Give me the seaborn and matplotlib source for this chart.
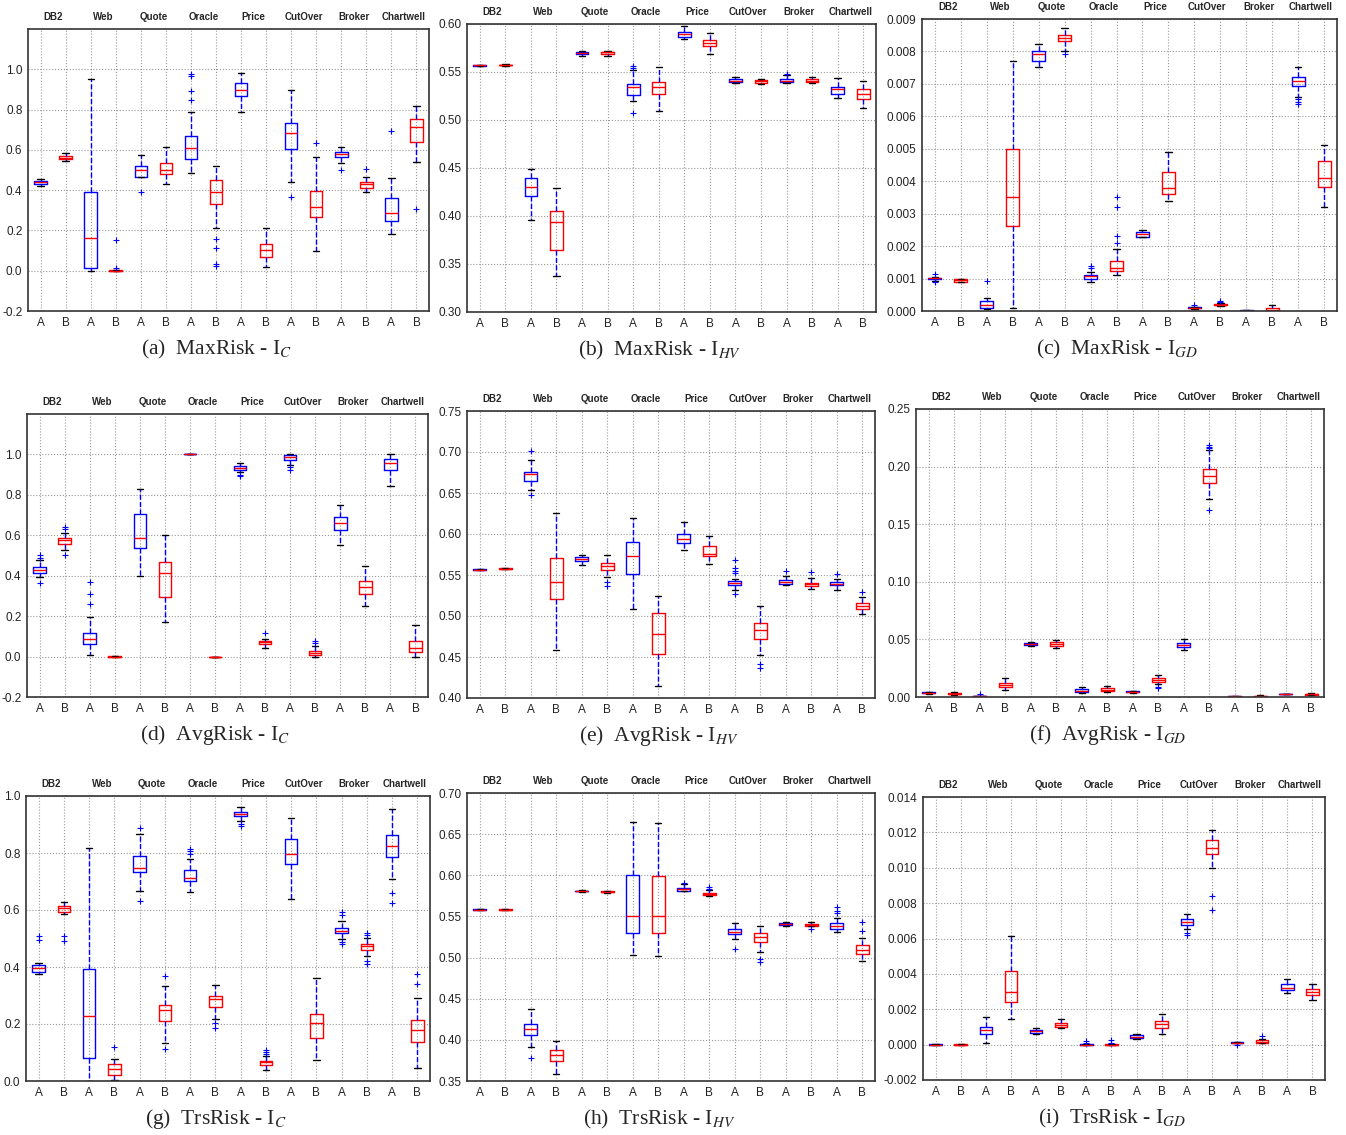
import numpy as np
import pandas as pd
import matplotlib
matplotlib.use('Agg')
import matplotlib.pyplot as plt
import seaborn as sns

# Sistemas e variantes (ordem das caixas no eixo x)
systems = ['DB2', 'Web', 'Quote', 'Oracle', 'Price', 'CutOver', 'Broker', 'Chartwell']
variants = ['A', 'B']

# (a) MaxRisk - I_C
a_low = [0.42, 0.545, 0.0, 0.0, 0.389, 0.429, 0.483, 0.211, 0.790, 0.018, 0.44, 0.10, 0.535, 0.389, 0.183, 0.538]
a_q1 = [0.432, 0.555, 0.013, 0.0, 0.467, 0.482, 0.553, 0.333, 0.868, 0.068, 0.606, 0.266, 0.563, 0.409, 0.249, 0.637]
a_med = [0.438, 0.562, 0.162, 0.001, 0.498, 0.502, 0.611, 0.393, 0.899, 0.104, 0.686, 0.315, 0.578, 0.429, 0.285, 0.715]
a_q3 = [0.445, 0.570, 0.391, 0.002, 0.518, 0.536, 0.668, 0.449, 0.934, 0.135, 0.734, 0.394, 0.587, 0.439, 0.363, 0.752]
a_high = [0.455, 0.585, 0.95, 0.003, 0.573, 0.614, 0.787, 0.521, 0.983, 0.21, 0.899, 0.563, 0.614, 0.467, 0.46, 0.817]
a_fliers = [[], [], [], [0.012, 0.15], [], [], [0.848, 0.891, 0.967, 0.979], [0.155, 0.114, 0.033, 0.023],
            [], [], [0.368], [0.635], [0.5], [0.503], [0.695], [0.305]]

# (b) MaxRisk - I_HV
b_low = [0.556, 0.5565, 0.3957, 0.337, 0.5665, 0.5667, 0.5196, 0.509, 0.584, 0.5692, 0.5386, 0.5376, 0.5388, 0.5385, 0.5227, 0.5123]
b_q1 = [0.5566, 0.5571, 0.4207, 0.3649, 0.5685, 0.5690, 0.5265, 0.5268, 0.5865, 0.577, 0.5392, 0.5390, 0.5395, 0.5393, 0.5268, 0.5223]
b_med = [0.5570, 0.5575, 0.430, 0.394, 0.570, 0.5705, 0.534, 0.534, 0.590, 0.5799, 0.541, 0.5404, 0.541, 0.5410, 0.532, 0.527]
b_q3 = [0.5573, 0.5578, 0.440, 0.4054, 0.5712, 0.5712, 0.537, 0.5393, 0.5915, 0.583, 0.5424, 0.5418, 0.5424, 0.5422, 0.5345, 0.532]
b_high = [0.5578, 0.558, 0.4488, 0.4287, 0.572, 0.572, 0.5525, 0.555, 0.598, 0.591, 0.5445, 0.543, 0.5465, 0.5452, 0.5438, 0.5407]
b_fliers = [[], [], [], [], [], [], [0.5563, 0.5546, 0.5071], [], [], [], [], [], [0.5475], [], [], []]

# (c) MaxRisk - I_GD
c_low = [0.00093, 0.0009, 0.00007, 0.0001, 0.00751, 0.0080, 0.0009, 0.0011, 0.00228, 0.0034, 0.00007, 0.00015, 0.0, 0.0, 0.0066, 0.00321]
c_q1 = [0.00098, 0.0009, 0.0001, 0.00262, 0.0077, 0.00831, 0.00099, 0.00122, 0.00229, 0.0036, 0.00008, 0.00018, 0.0, 0.0, 0.00695, 0.00383]
c_med = [0.00101, 0.00096, 0.0002, 0.0035, 0.00792, 0.00842, 0.00109, 0.00131, 0.00237, 0.0038, 0.0001, 0.0002, 0.00001, 0.00002, 0.0071, 0.00411]
c_q3 = [0.00102, 0.0010, 0.0003, 0.0050, 0.0080, 0.00852, 0.00112, 0.00155, 0.00242, 0.00429, 0.00012, 0.00022, 0.00002, 0.0001, 0.0072, 0.00461]
c_high = [0.00106, 0.0010, 0.00041, 0.0077, 0.00822, 0.00871, 0.0012, 0.0019, 0.00251, 0.0049, 0.00013, 0.00025, 0.00002, 0.0002, 0.00751, 0.00511]
c_fliers = [[0.00113, 0.00088], [], [0.00092], [], [], [0.00792], [0.00133, 0.0014], [0.0021, 0.0023, 0.0032, 0.0035],
            [], [], [0.0002], [0.00032, 0.00029], [], [], [0.00653, 0.00645, 0.00638], []]

# (d) AvgRisk - I_C
d_low = [0.393, 0.526, 0.007, 0.0, 0.398, 0.172, 1.0, 0.0, 0.914, 0.043, 0.95, 0.0, 0.553, 0.251, 0.845, 0.0]
d_q1 = [0.414, 0.559, 0.063, 0.0, 0.535, 0.295, 1.0, 0.0, 0.924, 0.061, 0.974, 0.007, 0.625, 0.31, 0.924, 0.023]
d_med = [0.429, 0.578, 0.089, 0.0, 0.587, 0.414, 1.0, 0.0, 0.932, 0.071, 0.985, 0.017, 0.663, 0.342, 0.959, 0.043]
d_q3 = [0.442, 0.586, 0.117, 0.001, 0.706, 0.467, 1.0, 0.0, 0.941, 0.078, 0.995, 0.028, 0.691, 0.376, 0.979, 0.078]
d_high = [0.477, 0.611, 0.196, 0.002, 0.83, 0.602, 1.0, 0.0, 0.957, 0.089, 1.0, 0.054, 0.752, 0.447, 1.0, 0.157]
d_fliers = [[0.502, 0.488, 0.365], [0.640, 0.630, 0.50], [0.261, 0.31, 0.368], [], [], [], [], [],
            [0.893, 0.896], [0.116], [0.937, 0.925], [0.066, 0.078], [], [], [], []]

# (e) AvgRisk - I_HV
e_low = [0.5555, 0.5575, 0.654, 0.458, 0.5624, 0.5477, 0.5087, 0.415, 0.580, 0.5632, 0.5319, 0.4525, 0.5384, 0.5331, 0.5323, 0.503]
e_q1 = [0.5562, 0.5577, 0.665, 0.5209, 0.5669, 0.5563, 0.5514, 0.4533, 0.589, 0.5726, 0.538, 0.4725, 0.5396, 0.5368, 0.5372, 0.5087]
e_med = [0.5566, 0.5579, 0.673, 0.542, 0.5697, 0.5604, 0.5734, 0.478, 0.5937, 0.5754, 0.5408, 0.4834, 0.5416, 0.5388, 0.5392, 0.5127]
e_q3 = [0.5570, 0.5581, 0.676, 0.5705, 0.5718, 0.5652, 0.5905, 0.5034, 0.600, 0.5852, 0.5429, 0.492, 0.5441, 0.5408, 0.5416, 0.5164]
e_high = [0.5578, 0.5583, 0.690, 0.626, 0.5742, 0.5738, 0.619, 0.524, 0.615, 0.5974, 0.545, 0.5123, 0.5486, 0.5465, 0.5453, 0.5233]
e_fliers = [[], [], [0.7016, 0.647], [], [], [0.542, 0.536], [], [], [], [],
            [0.568, 0.559, 0.555, 0.553, 0.527], [0.4415, 0.436], [0.5543], [0.5539], [0.5518], [0.529]]

# (f) AvgRisk - I_GD
f_low = [0.003, 0.002, 0.0, 0.0064, 0.0441, 0.0429, 0.0038, 0.0043, 0.0038, 0.0115, 0.0411, 0.1721, 0.0, 0.0, 0.0022, 0.0015]
f_q1 = [0.0033, 0.0024, 0.0005, 0.0087, 0.0455, 0.0443, 0.0043, 0.0052, 0.0043, 0.0133, 0.0435, 0.1854, 0.0003, 0.0003, 0.0024, 0.0018]
f_med = [0.0038, 0.0029, 0.0009, 0.0107, 0.046, 0.0463, 0.0055, 0.0064, 0.0046, 0.0151, 0.0455, 0.192, 0.0006, 0.0006, 0.0026, 0.0023]
f_q3 = [0.0042, 0.0035, 0.0013, 0.0122, 0.0465, 0.0475, 0.0067, 0.0075, 0.005, 0.0162, 0.0472, 0.1976, 0.0009, 0.0011, 0.0028, 0.0029]
f_high = [0.0045, 0.0045, 0.0025, 0.0165, 0.0479, 0.0492, 0.0087, 0.0096, 0.0055, 0.0188, 0.0507, 0.2141, 0.0012, 0.0015, 0.003, 0.0033]
f_fliers = [[], [], [], [], [], [], [], [], [], [0.0088, 0.0082], [], [0.2187, 0.2173, 0.2163, 0.1622], [], [], [], []]

# (g) TrsRisk - I_C
g_low = [0.3747, 0.5855, 0.001, 0.005, 0.666, 0.1323, 0.6616, 0.219, 0.911, 0.0398, 0.638, 0.075, 0.4965, 0.4403, 0.7084, 0.0468]
g_q1 = [0.384, 0.5913, 0.082, 0.0222, 0.733, 0.2108, 0.7026, 0.2611, 0.9286, 0.0574, 0.7623, 0.151, 0.52, 0.461, 0.7845, 0.137]
g_med = [0.398, 0.6066, 0.2295, 0.041, 0.747, 0.2506, 0.714, 0.2869, 0.938, 0.0656, 0.795, 0.2049, 0.528, 0.472, 0.823, 0.178]
g_q3 = [0.4087, 0.6148, 0.3934, 0.0597, 0.788, 0.267, 0.739, 0.2974, 0.9426, 0.0714, 0.849, 0.2365, 0.5375, 0.480, 0.8618, 0.2154]
g_high = [0.4157, 0.6265, 0.8185, 0.0773, 0.8665, 0.3326, 0.7775, 0.3384, 0.960, 0.089, 0.9227, 0.363, 0.5597, 0.5023, 0.953, 0.2904]
g_fliers = [[0.509, 0.494], [0.508, 0.4906], [], [0.1206], [0.886, 0.631], [0.369, 0.1136], [0.8126, 0.8056, 0.798], [0.203, 0.187],
            [0.9016, 0.8946], [0.1077, 0.1007, 0.0937], [], [], [0.5925, 0.583, 0.488, 0.48], [0.521, 0.5129, 0.4215, 0.412],
            [0.66, 0.624], [0.3407, 0.3747]]

# (h) TrsRisk - I_HV
h_low = [0.558, 0.558, 0.3914, 0.3581, 0.580, 0.5785, 0.503, 0.5022, 0.5806, 0.5749, 0.5225, 0.5063, 0.5388, 0.5351, 0.5311, 0.4962]
h_q1 = [0.5581, 0.5581, 0.406, 0.3748, 0.5805, 0.5793, 0.5303, 0.5295, 0.5815, 0.5765, 0.5286, 0.5185, 0.5396, 0.5388, 0.5351, 0.5047]
h_med = [0.5583, 0.5583, 0.4137, 0.3821, 0.581, 0.5798, 0.551, 0.5502, 0.5835, 0.5778, 0.5311, 0.5254, 0.5408, 0.5396, 0.538, 0.5096]
h_q3 = [0.5585, 0.5585, 0.4198, 0.3882, 0.5815, 0.5803, 0.6009, 0.5989, 0.5847, 0.5786, 0.5343, 0.5295, 0.542, 0.5408, 0.5416, 0.5152]
h_high = [0.5586, 0.5586, 0.4369, 0.3987, 0.582, 0.581, 0.6643, 0.6634, 0.5893, 0.5816, 0.5416, 0.5384, 0.5437, 0.5428, 0.5485, 0.5242]
h_fliers = [[], [], [0.3784], [], [], [], [], [], [0.5912], [0.5855, 0.5838], [0.51], [0.4978, 0.4941], [], [],
            [0.5611, 0.557, 0.5538], [0.5433, 0.532]]

# (i) TrsRisk - I_GD
i_low = [0.0, 0.0, 0.00011, 0.00143, 0.0006, 0.00092, 0.0, 0.0, 0.00034, 0.0006, 0.00651, 0.0100, 0.00008, 0.00008, 0.00292, 0.00251]
i_q1 = [0.0, 0.0, 0.0006, 0.0024, 0.00068, 0.001, 0.0, 0.0, 0.00038, 0.00092, 0.00679, 0.01077, 0.0001, 0.00011, 0.00308, 0.00279]
i_med = [0.0, 0.0, 0.00085, 0.0030, 0.00075, 0.00111, 0.0, 0.0, 0.00043, 0.00115, 0.00692, 0.01109, 0.00011, 0.00017, 0.00321, 0.00298]
i_q3 = [0.00001, 0.00001, 0.00102, 0.00419, 0.00083, 0.00121, 0.00002, 0.00002, 0.00053, 0.00132, 0.00711, 0.01158, 0.00013, 0.00025, 0.00342, 0.00313]
i_high = [0.00001, 0.00001, 0.00158, 0.00613, 0.00092, 0.00143, 0.00005, 0.00005, 0.0006, 0.00172, 0.0074, 0.01213, 0.00015, 0.00034, 0.0037, 0.00342]
i_fliers = [[], [], [], [], [], [], [0.0001, 0.0002], [0.0001, 0.00025], [], [], [0.0063, 0.00622], [0.0084, 0.0076],
            [0.0], [0.0005], [], []]


# Monta amostras cujos quartis, mediana e extremos batem com os valores lidos
def montar_amostras(low, q1, med, q3, high, fliers, rep=20):
    linhas = []
    for slot in range(16):
        vals = [low[slot]] + [q1[slot]] * rep + [med[slot]] * rep + [q3[slot]] * rep + [high[slot]] + list(fliers[slot])
        for v in vals:
            linhas.append((slot, variants[slot % 2], v))
    return pd.DataFrame(linhas, columns=['slot', 'variant', 'value'])


W, H = 1346, 1135
paineis = [
    ((a_low, a_q1, a_med, a_q3, a_high, a_fliers), '(a)  MaxRisk - I$_{C}$', (-0.2, 1.2), np.linspace(-0.2, 1.0, 7), '%.1f', (28, 29, 429, 311)),
    ((b_low, b_q1, b_med, b_q3, b_high, b_fliers), '(b)  MaxRisk - I$_{HV}$', (0.30, 0.60), np.linspace(0.30, 0.60, 7), '%.2f', (467, 24, 876, 312)),
    ((c_low, c_q1, c_med, c_q3, c_high, c_fliers), '(c)  MaxRisk - I$_{GD}$', (0.0, 0.009), np.linspace(0.0, 0.009, 10), '%.3f', (922, 19, 1337, 311)),
    ((d_low, d_q1, d_med, d_q3, d_high, d_fliers), '(d)  AvgRisk - I$_{C}$', (-0.2, 1.2), np.linspace(-0.2, 1.0, 7), '%.1f', (27, 414, 428, 697)),
    ((e_low, e_q1, e_med, e_q3, e_high, e_fliers), '(e)  AvgRisk - I$_{HV}$', (0.40, 0.75), np.linspace(0.40, 0.75, 8), '%.2f', (467, 411, 875, 698)),
    ((f_low, f_q1, f_med, f_q3, f_high, f_fliers), '(f)  AvgRisk - I$_{GD}$', (0.0, 0.25), np.linspace(0.0, 0.25, 6), '%.2f', (916, 409, 1324, 697)),
    ((g_low, g_q1, g_med, g_q3, g_high, g_fliers), '(g)  TrsRisk - I$_{C}$', (0.0, 1.0), np.linspace(0.0, 1.0, 6), '%.1f', (26, 796, 430, 1081)),
    ((h_low, h_q1, h_med, h_q3, h_high, h_fliers), '(h)  TrsRisk - I$_{HV}$', (0.35, 0.70), np.linspace(0.35, 0.70, 8), '%.2f', (467, 793, 875, 1081)),
    ((i_low, i_q1, i_med, i_q3, i_high, i_fliers), '(i)  TrsRisk - I$_{GD}$', (-0.002, 0.014), np.linspace(-0.002, 0.014, 9), '%.3f', (923, 797, 1325, 1080)),
]

sns.set_style('white')
plt.rcParams['font.family'] = ['Liberation Sans', 'DejaVu Sans']
plt.rcParams['axes.unicode_minus'] = False
plt.rcParams['mathtext.fontset'] = 'stix'

fig = plt.figure(figsize=(W / 100, H / 100), dpi=100)

for stats, legenda, ylim, yticks, fmt, (l, t, r, b) in paineis:
    ax = fig.add_axes([l / W, 1 - b / H, (r - l) / W, (b - t) / H])
    df = montar_amostras(*stats)
    sns.boxplot(data=df, x='slot', y='value', hue='variant', palette={'A': 'blue', 'B': 'red'},
                fill=False, dodge=False, width=0.5, linewidth=1.0, legend=False, ax=ax,
                whiskerprops=dict(color='blue', linestyle='--', linewidth=1.0),
                capprops=dict(color='black', linewidth=1.0),
                medianprops=dict(color='red', linewidth=1.0),
                flierprops=dict(marker='+', markeredgecolor='blue', markersize=5,
                                markeredgewidth=0.8, linestyle='none'))
    ax.set_xlim(-0.5, 15.5)
    ax.set_ylim(*ylim)
    ax.set_yticks(yticks)
    ax.set_yticklabels([fmt % (round(v, 6) + 0.0) for v in yticks])
    ax.set_xticks(range(16))
    ax.set_xticklabels(variants * 8)
    ax.set_xlabel('')
    ax.set_ylabel('')
    ax.grid(True, color='0.6', linestyle=':', linewidth=0.8)
    ax.set_axisbelow(True)
    for s in ax.spines.values():
        s.set_visible(True)
        s.set_color('#333333')
        s.set_linewidth(1.2)
    ax.tick_params(length=0, labelsize=8.5, pad=4, colors='#222222')

    # nomes dos sistemas acima de cada par de caixas
    for k, nome in enumerate(systems):
        ax.annotate(nome, xy=(2 * k + 0.5, 1), xycoords=('data', 'axes fraction'),
                    xytext=(0, 5), textcoords='offset points', ha='center', va='bottom',
                    fontsize=7, fontweight='bold')

    # legenda da sub-figura
    cx = (l + r) / 2 - 12
    cy = b + 38
    fig.text(cx / W, 1 - cy / H, legenda, ha='center', va='center', fontsize=15.5,
             family='Liberation Serif')

fig.savefig('out.png', dpi=100)
